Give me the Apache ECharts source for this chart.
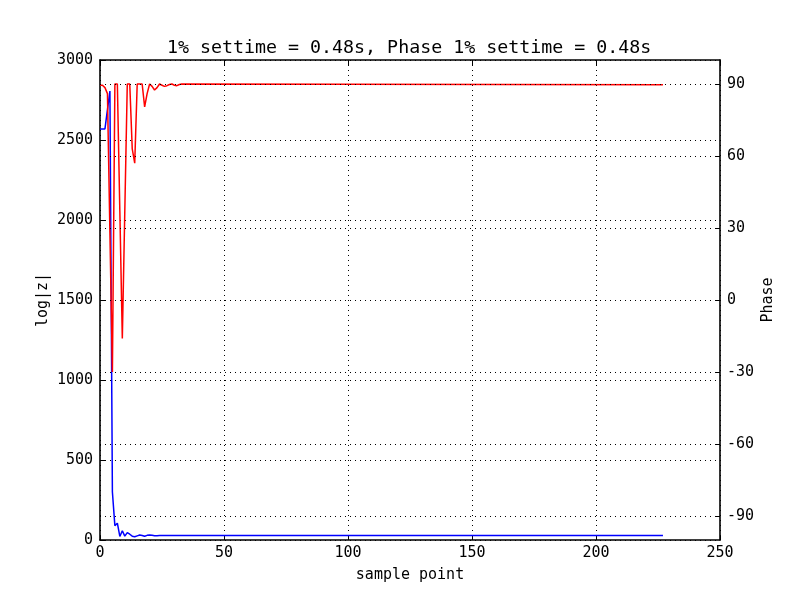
<!DOCTYPE html>
<html>
<head>
    <meta charset="utf-8">
    <title>settime</title>
    <script src="https://cdn.jsdelivr.net/npm/echarts@6/dist/echarts.min.js"></script>
    <style>
        html, body { margin: 0; padding: 0; background: #fff; }
        #chart1 { width: 800px; height: 600px; }
    </style>
</head>
<body>
<div id="chart1"></div>
<script type="text/javascript">
    // log|z| samples, flat after sample 25
    const zSamples = [0, 1, 2, 3, 4, 5, 6, 7, 8, 9, 10, 11, 12, 13, 14, 15, 16, 17, 18, 19, 20, 21, 22, 23, 24, 25, 227];
    const zValues = [2569, 2569, 2569, 2690, 2806, 300, 90, 105, 22, 58, 24, 46, 36, 24, 20, 26, 31, 28, 23, 29, 31, 30, 27, 27, 28, 28, 28];

    // phase samples, settles near 90 after sample 33
    const phaseSamples = [0, 1, 2, 3, 4, 5, 6, 7, 8, 9, 10, 11, 12, 13, 14, 15, 16, 17, 18, 19, 20, 21, 22, 23, 24, 25, 26, 27, 28, 29, 30, 31, 32, 33, 227];
    const phaseValues = [89.5, 89.5, 88.5, 86, 28, -30, 90, 90, 37, -16, 37, 90, 90, 63, 57, 90, 90, 90, 80.5, 86, 90, 89, 87.5, 88.5, 90, 89.5, 89, 89.3, 89.8, 90, 89.5, 89.3, 89.8, 90, 89.7];

    const xTicks = [0, 50, 100, 150, 200, 250];
    const zTicks = [0, 500, 1000, 1500, 2000, 2500, 3000];
    const phaseTicks = [-90, -60, -30, 0, 30, 60, 90];

    const titleText = '1% settime = 0.48s, Phase 1% settime = 0.48s';

    const font = 'DejaVu Sans Mono';
    const dotted = {show: true, lineStyle: {color: '#000', width: 1, type: [1, 4]}};
    const frameLine = {show: true, onZero: false, lineStyle: {color: '#000', width: 1.6}};
    const tick = {show: true, inside: true, length: 5, lineStyle: {color: '#000', width: 1}};
    const tickLabel = {fontFamily: font, fontSize: 15, color: '#000', margin: 7};

    let myChart1 = echarts.init(document.getElementById('chart1'));
    myChart1.setOption({
        animation: false,
        backgroundColor: '#fff',
        title: {
            text: titleText,
            left: 162,
            top: 34,
            textStyle: {fontFamily: font, fontSize: 18.3, fontWeight: 'normal', color: '#000'}
        },
        grid: {left: 100, right: 80, top: 60, bottom: 60},
        xAxis: [{
            type: 'value',
            min: xTicks[0],
            max: xTicks[xTicks.length - 1],
            interval: 50,
            name: 'sample point',
            nameLocation: 'middle',
            nameGap: 28,
            nameMoveOverlap: false,
            nameTextStyle: {fontFamily: font, fontSize: 15, color: '#000'},
            axisLine: frameLine,
            axisTick: tick,
            axisLabel: Object.assign({}, tickLabel, {margin: 6}),
            splitLine: dotted
        }, {
            type: 'value',
            position: 'top',
            min: xTicks[0],
            max: xTicks[xTicks.length - 1],
            interval: 50,
            axisLine: frameLine,
            axisTick: tick,
            axisLabel: {show: false},
            splitLine: {show: false}
        }],
        yAxis: [{
            type: 'value',
            min: zTicks[0],
            max: zTicks[zTicks.length - 1],
            interval: 500,
            name: 'log|z|',
            nameLocation: 'middle',
            nameGap: 49,
            nameMoveOverlap: false,
            nameTextStyle: {fontFamily: font, fontSize: 15, color: '#000'},
            axisLine: frameLine,
            axisTick: tick,
            axisLabel: Object.assign({}, tickLabel, {formatter: v => String(v)}),
            splitLine: dotted
        }, {
            type: 'value',
            position: 'right',
            min: -100,
            max: 100,
            name: 'Phase',
            nameLocation: 'middle',
            nameGap: 41,
            nameMoveOverlap: false,
            nameTextStyle: {fontFamily: font, fontSize: 15, color: '#000'},
            axisLine: frameLine,
            axisTick: Object.assign({}, tick, {customValues: phaseTicks}),
            axisLabel: Object.assign({}, tickLabel, {customValues: phaseTicks}),
            splitLine: {show: false}
        }],
        series: [{
            name: 'log|z|',
            type: 'line',
            xAxisIndex: 0,
            yAxisIndex: 0,
            symbol: 'none',
            lineStyle: {color: '#0000ff', width: 1.5},
            data: zSamples.map((s, i) => [s, zValues[i]])
        }, {
            name: 'Phase',
            type: 'line',
            xAxisIndex: 0,
            yAxisIndex: 1,
            symbol: 'none',
            lineStyle: {color: '#ff0000', width: 1.5},
            data: phaseSamples.map((s, i) => [s, phaseValues[i]]),
            z: 3,
            // phase grid lines of the right axis
            markLine: {
                silent: true,
                symbol: 'none',
                label: {show: false},
                lineStyle: {color: '#000', width: 1, type: [1, 4]},
                data: phaseTicks.map(v => ({yAxis: v}))
            }
        }]
    });
</script>
</body>
</html>
